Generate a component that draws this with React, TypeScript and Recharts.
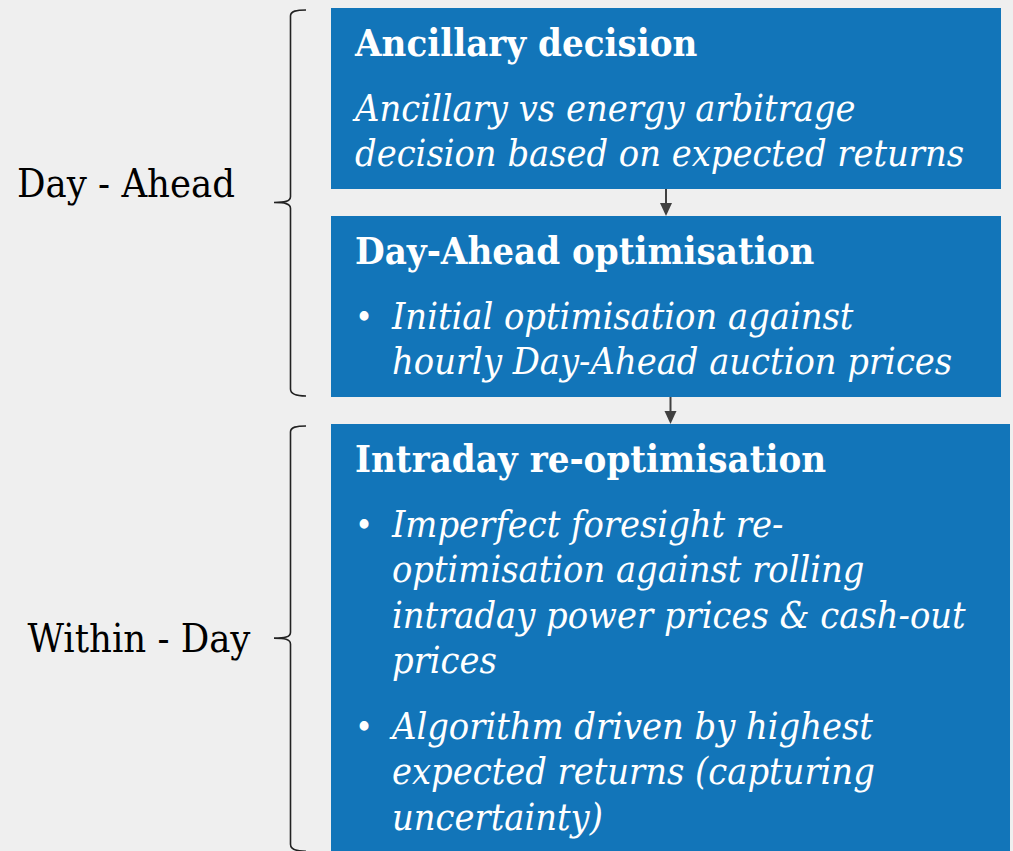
import React from "react";
import {
  ComposedChart,
  ReferenceArea,
  ReferenceDot,
  ReferenceLine,
  XAxis,
  YAxis
} from "recharts";

// --- content ---
const STAGE_TITLES = ["Ancillary decision", "Day-Ahead optimisation", "Intraday re-optimisation"];
const STAGE_BULLETED = [false, true, true];
// each stage: list of bullets, each bullet a list of wrapped lines
const STAGE_TEXT: string[][][] = [
  [["Ancillary vs energy arbitrage", "decision based on expected returns"]],
  [["Initial optimisation against", "hourly Day-Ahead auction prices"]],
  [
    [
      "Imperfect foresight re-",
      "optimisation against rolling",
      "intraday power prices & cash-out",
      "prices"
    ],
    ["Algorithm driven by highest", "expected returns (capturing", "uncertainty)"]
  ]
];
const HORIZONS = ["Day - Ahead", "Within - Day"];
const HORIZON_STAGES = [[0, 1], [2]];

// --- layout ---
const W = 1013;
const H = 851;
const ROW = 45.25; // px per text row, y axis is measured in rows
const Y_MAX = H / ROW;
const TOP = 8 / ROW;
const GAP = 27 / ROW;
const BULLET_GAP = 21 / ROW;
const TITLE_BASE = 48 / ROW;
const BODY_BASE = 113 / ROW;
const BOX_LEFT = 331;
const BOX_RIGHT = [1001, 1001, 1010];
const TEXT_X = 355;
const BULLET_TEXT_X = 392;
const BRACE_TIP = 274;
const BRACE_LINE = 290;
const BRACE_END = 306;
const LABEL_X = [126, 139];
const LABEL_DY = [-0.42, 0];

const BLUE = "#1275b9";
const FONT = "'DejaVu Serif Condensed', 'DejaVu Serif', serif";

type Line = { text: string; row: number; bullet: boolean };
type Stage = { title: string; top: number; bottom: number; lines: Line[] };

function buildStages(): Stage[] {
  let y = TOP;
  return STAGE_TITLES.map((title, i) => {
    const lines: Line[] = [];
    let r = y + BODY_BASE;
    STAGE_TEXT[i].forEach((bullet, bi) => {
      if (bi > 0) r += BULLET_GAP;
      bullet.forEach((text, li) => {
        lines.push({ text, row: r, bullet: STAGE_BULLETED[i] && li === 0 });
        r += 1;
      });
    });
    // title row + text rows + one row of padding
    const bottom = y + 2 + (r - y - BODY_BASE);
    const stage = { title, top: y, bottom, lines };
    y = bottom + GAP;
    return stage;
  });
}

const stages = buildStages();

function Brace(props: any) {
  const { y, height } = props;
  const top = y;
  const bot = y + height;
  const mid = (top + bot) / 2;
  const xv = BRACE_LINE + 0.5;
  const d = [
    `M ${BRACE_END} ${top + 2}`,
    `C ${xv + 6} ${top + 2}, ${xv} ${top + 3}, ${xv} ${top + 8}`,
    `L ${xv} ${mid - 6}`,
    `C ${xv} ${mid - 1}, ${xv - 6} ${mid}, ${BRACE_TIP} ${mid}`,
    `C ${xv - 6} ${mid}, ${xv} ${mid + 1}, ${xv} ${mid + 6}`,
    `L ${xv} ${bot - 8}`,
    `C ${xv} ${bot - 3}, ${xv + 6} ${bot - 1}, ${BRACE_END} ${bot - 1}`
  ].join(" ");
  return <path d={d} fill="none" stroke="#222" strokeWidth={1.6} />;
}

function Arrow(props: any) {
  const { x1, y1, x2, y2 } = props;
  return (
    <g>
      <line x1={x1} y1={y1} x2={x2} y2={y2 - 10} stroke="#404040" strokeWidth={2} />
      <polygon
        points={`${x2 - 6},${y2 - 13} ${x2 + 6},${y2 - 13} ${x2},${y2}`}
        fill="#404040"
      />
    </g>
  );
}

export default function App() {
  return (
    <div
      style={{
        position: "absolute",
        top: 0,
        left: 0,
        width: W,
        height: H,
        background: "#efefef",
        overflow: "hidden"
      }}
    >
      <ComposedChart width={W} height={H} data={[]} margin={{ top: 0, right: 0, bottom: 0, left: 0 }}>
        <XAxis type="number" dataKey="x" domain={[0, W]} hide allowDataOverflow />
        <YAxis type="number" dataKey="y" domain={[0, Y_MAX]} reversed hide allowDataOverflow />

        {/* stage boxes */}
        {stages.map((s, i) => (
          <ReferenceArea
            key={`box-${i}`}
            x1={BOX_LEFT}
            x2={BOX_RIGHT[i]}
            y1={s.top}
            y2={s.bottom}
            fill={BLUE}
            fillOpacity={1}
            stroke="none"
            ifOverflow="hidden"
          />
        ))}

        {/* arrows between stages */}
        {stages.slice(1).map((s, i) => (
          <ReferenceLine
            key={`arrow-${i}`}
            segment={[
              { x: (BOX_LEFT + BOX_RIGHT[i + 1]) / 2, y: stages[i].bottom },
              { x: (BOX_LEFT + BOX_RIGHT[i + 1]) / 2, y: s.top }
            ]}
            shape={Arrow}
          />
        ))}

        {/* titles */}
        {stages.map((s, i) => (
          <ReferenceDot
            key={`title-${i}`}
            x={TEXT_X}
            y={s.top + TITLE_BASE}
            shape={(p: any) => (
              <text x={p.cx} y={p.cy} fill="#fff" fontFamily={FONT} fontWeight="bold" fontSize={38}>
                {s.title}
              </text>
            )}
          />
        ))}

        {/* body lines */}
        {stages.flatMap((s, i) =>
          s.lines.map((ln, li) => (
            <ReferenceDot
              key={`line-${i}-${li}`}
              x={STAGE_BULLETED[i] ? BULLET_TEXT_X : TEXT_X}
              y={ln.row}
              shape={(p: any) => (
                <g>
                  {ln.bullet && (
                    <text x={p.cx - 37} y={p.cy} fill="#fff" fontFamily={FONT} fontSize={34}>
                      •
                    </text>
                  )}
                  <text x={p.cx} y={p.cy} fill="#fff" fontFamily={FONT} fontStyle="italic" fontSize={37.6}>
                    {ln.text}
                  </text>
                </g>
              )}
            />
          ))
        )}

        {/* horizon braces and labels */}
        {HORIZONS.map((h, i) => {
          const first = stages[HORIZON_STAGES[i][0]];
          const last = stages[HORIZON_STAGES[i][HORIZON_STAGES[i].length - 1]];
          return (
            <ReferenceArea
              key={`brace-${i}`}
              x1={BRACE_TIP}
              x2={BRACE_END}
              y1={first.top}
              y2={last.bottom}
              shape={Brace}
              ifOverflow="visible"
            />
          );
        })}
        {HORIZONS.map((h, i) => {
          const first = stages[HORIZON_STAGES[i][0]];
          const last = stages[HORIZON_STAGES[i][HORIZON_STAGES[i].length - 1]];
          return (
            <ReferenceDot
              key={`label-${i}`}
              x={LABEL_X[i]}
              y={(first.top + last.bottom) / 2 + LABEL_DY[i]}
              shape={(p: any) => (
                <text
                  x={p.cx}
                  y={p.cy}
                  textAnchor="middle"
                  dominantBaseline="central"
                  fill="#000"
                  fontFamily={FONT}
                  fontSize={39.5}
                >
                  {h}
                </text>
              )}
            />
          );
        })}
      </ComposedChart>
    </div>
  );
}
